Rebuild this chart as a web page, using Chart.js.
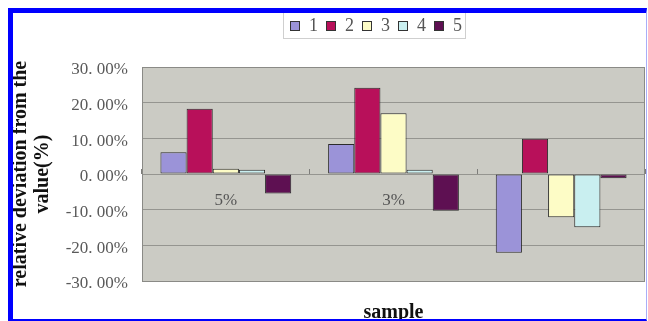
<!DOCTYPE html>
<html>
<head>
<meta charset="utf-8">
<script src="https://cdn.jsdelivr.net/npm/chart.js@4/dist/chart.umd.min.js"></script>
<style>
  html, body { margin: 0; padding: 0; background: #fff; }
  #wrap { position: relative; width: 648px; height: 321px; overflow: hidden; }
  #chart { position: absolute; left: 0; top: 0; }
  #frame {
    position: absolute; left: 8px; top: 8px; width: 639px; height: 313px;
    box-sizing: border-box; pointer-events: none;
    border-left: 5px solid #0000ff; border-top: 5px solid #0000ff;
    border-right: 1px solid #a9aef8; border-bottom: 2px solid #0000ff;
  }
  #legend {
    position: absolute; left: 283px; top: 13px; width: 183px; height: 26px;
    box-sizing: border-box; border: 1px solid #cfcfcf; border-top: none;
    display: flex; align-items: center; padding-left: 6px;
    font-family: "Liberation Serif", serif; font-size: 18px; color: #555;
  }
  #legend .item { display: flex; align-items: center; margin-right: 8px; }
  #legend .box { width: 8px; height: 8px; border: 1px solid #333; margin-right: 9px; }
</style>
</head>
<body>
<div id="wrap">
  <canvas id="chart" width="648" height="321"></canvas>
  <div id="legend"></div>
  <div id="frame"></div>
</div>
<script>
// Concentration levels on the category axis
const categories = ['5%', '3%', '1%'];
// Sample numbers shown in the legend
const seriesNames = ['1', '2', '3', '4', '5'];
// Relative deviation (%) of each sample at each level
const sample1 = [6.1, 8.4, -22.1];
const sample2 = [18.3, 24.2, 9.9];
const sample3 = [1.5, 17.0, -12.1];
const sample4 = [1.2, 1.2, -14.9];
const sample5 = [-5.5, -10.3, -1.2];
// Y axis ticks
const yMin = -30, yMax = 30, yStep = 10;

const seriesValues = [sample1, sample2, sample3, sample4, sample5];
const seriesColors = ['#9b93d8', '#b8105a', '#fdfcc6', '#c9eff0', '#5e1052'];

const serif = '"Liberation Serif", "Times New Roman", serif';

// Grey plot panel with a darker frame
const plotPanel = {
  id: 'plotPanel',
  beforeDraw(chart) {
    const { ctx, chartArea: a } = chart;
    ctx.save();
    ctx.fillStyle = '#cbcbc4';
    ctx.fillRect(a.left, a.top, a.right - a.left, a.bottom - a.top);
    ctx.restore();
  },
  afterDraw(chart) {
    const { ctx, chartArea: a } = chart;
    ctx.save();
    ctx.strokeStyle = '#8a8a86';
    ctx.lineWidth = 1;
    ctx.strokeRect(Math.round(a.left) + 0.5, Math.round(a.top) + 0.5,
                   Math.round(a.right - a.left) - 1, Math.round(a.bottom - a.top));
    ctx.restore();
  }
};

const chart = new Chart(document.getElementById('chart'), {
  type: 'bar',
  data: {
    labels: categories,
    datasets: seriesNames.map((name, i) => ({
      label: name,
      data: seriesValues[i],
      backgroundColor: seriesColors[i],
      borderColor: '#2b2b2b',
      borderWidth: 1,
      borderSkipped: false,
      categoryPercentage: 0.78,
      barPercentage: 1.0
    }))
  },
  options: {
    responsive: false,
    animation: false,
    events: [],
    layout: { padding: { left: 10, top: 67, right: 3, bottom: 0 } },
    plugins: {
      legend: { display: false },
      tooltip: { enabled: false }
    },
    scales: {
      x: {
        type: 'category',
        position: { y: 0 },
        offset: true,
        border: { display: false },
        grid: {
          offset: true,
          drawOnChartArea: false,
          drawTicks: true,
          tickLength: -5,
          color: '#7d7d7a'
        },
        ticks: {
          padding: 21,
          color: '#555',
          font: { family: serif, size: 17 }
        }
      },
      x2: {
        type: 'category',
        labels: categories,
        position: 'bottom',
        grid: { display: false },
        border: { display: false },
        ticks: { display: false },
        title: {
          display: true,
          text: 'sample',
          color: '#111',
          font: { family: serif, size: 20, weight: 'bold', lineHeight: 1.2 },
          padding: { top: 0, bottom: -4 }
        },
        afterFit(scale) { scale.height = 40; }
      },
      y: {
        min: yMin,
        max: yMax,
        border: { display: false },
        grid: { color: '#959590', drawTicks: false, lineWidth: 1 },
        ticks: {
          stepSize: yStep,
          padding: 14,
          labelOffset: 3,
          color: '#5a5a5a',
          font: { family: serif, size: 17 },
          callback: v => v.toFixed(2).replace('.', '. ') + '%'
        },
        title: {
          display: true,
          text: ['relative deviation from the', 'value(%)'],
          color: '#111',
          font: { family: serif, size: 20, weight: 'bold', lineHeight: 1.1 },
          padding: { top: 0, bottom: 0 }
        },
        afterFit(scale) { scale.width = 132; }
      }
    }
  },
  plugins: [plotPanel]
});

// Legend built from the same series names and colours
const legendEl = document.getElementById('legend');
seriesNames.forEach((name, i) => {
  const item = document.createElement('div');
  item.className = 'item';
  const box = document.createElement('span');
  box.className = 'box';
  box.style.background = seriesColors[i];
  const txt = document.createElement('span');
  txt.textContent = name;
  item.appendChild(box);
  item.appendChild(txt);
  legendEl.appendChild(item);
});
</script>
</body>
</html>
